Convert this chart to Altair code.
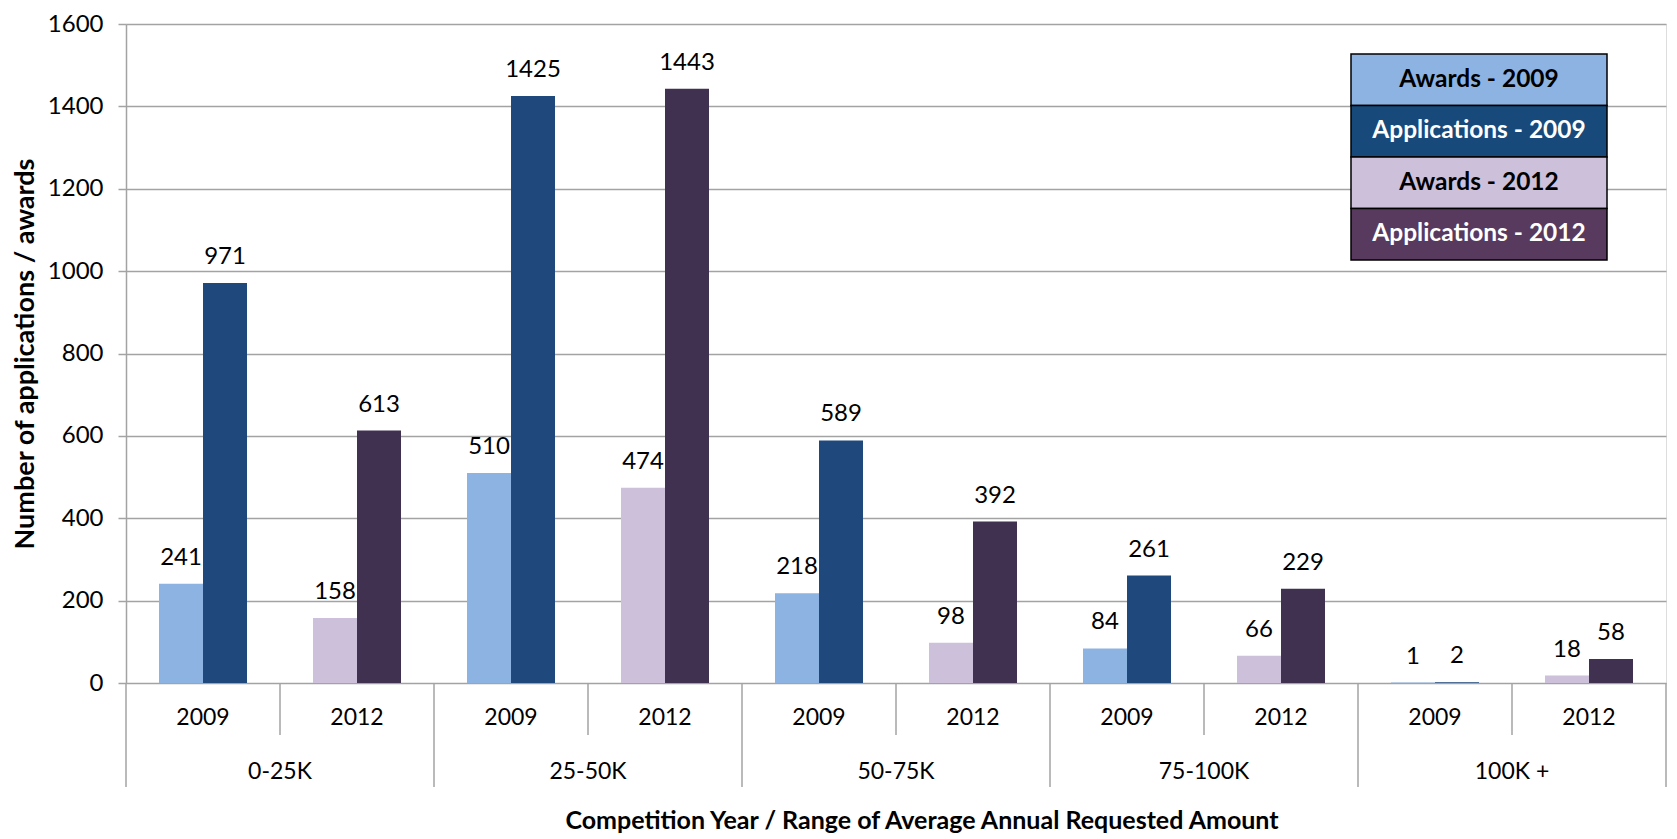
import altair as alt
import pandas as pd

ranges = ["0-25K", "25-50K", "50-75K", "75-100K", "100K +"]
years = ["2009", "2012"]
awards_2009 = [241, 510, 218, 84, 1]
apps_2009 = [971, 1425, 589, 261, 2]
awards_2012 = [158, 474, 98, 66, 18]
apps_2012 = [613, 1443, 392, 229, 58]
series_names = ["Awards - 2009", "Applications - 2009", "Awards - 2012", "Applications - 2012"]
bar_colors = ["#8DB3E2", "#1F497D", "#CCC0DA", "#403151"]
legend_colors = ["#8DB3E2", "#17497A", "#CCC0DA", "#573A5E"]
legend_text_colors = ["black", "white", "black", "white"]

W, H = 1540, 659
FONT = "Lato"

rows = []
keys = []
for i, r in enumerate(ranges):
    for y in years:
        keys.append(f"{r}|{y}")
    rows.append(dict(key=f"{r}|2009", measure="Awards", series="Awards - 2009", value=awards_2009[i]))
    rows.append(dict(key=f"{r}|2009", measure="Applications", series="Applications - 2009", value=apps_2009[i]))
    rows.append(dict(key=f"{r}|2012", measure="Awards", series="Awards - 2012", value=awards_2012[i]))
    rows.append(dict(key=f"{r}|2012", measure="Applications", series="Applications - 2012", value=apps_2012[i]))
df = pd.DataFrame(rows)

kdf = pd.DataFrame([dict(key=k, range=k.split("|")[0], year=k.split("|")[1], last=(j == len(keys) - 1))
                    for j, k in enumerate(keys)])

xscale = alt.Scale(domain=keys, paddingInner=0, paddingOuter=0)
xo = alt.XOffset("measure:N", sort=["Awards", "Applications"],
                 scale=alt.Scale(domain=["Awards", "Applications"], paddingInner=0, paddingOuter=0.75))

yaxis = alt.Axis(values=list(range(0, 1601, 200)), format="d", grid=True, gridColor="#a3a3a3", gridWidth=1.5,
                 domainColor="#a3a3a3", domainWidth=1.5, tickColor="#a3a3a3", tickWidth=1.5, tickSize=8,
                 labelPadding=15, labelFont=FONT, labelFontSize=24, labelColor="black",
                 title="Number of applications / awards", titleFont=FONT, titleFontSize=27,
                 titleFontWeight="bold", titleColor="black", titlePadding=8)

base = alt.Chart(df)
bars = base.mark_bar().encode(
    x=alt.X("key:N", scale=xscale, axis=None),
    xOffset=xo,
    y=alt.Y("value:Q", scale=alt.Scale(domain=[0, 1600], nice=False), axis=yaxis),
    color=alt.Color("series:N", scale=alt.Scale(domain=series_names, range=bar_colors), legend=None),
)
labels = base.mark_text(font=FONT, fontSize=24, color="black", baseline="alphabetic", dy=-19).encode(
    x=alt.X("key:N", scale=xscale, axis=None),
    xOffset=xo,
    y=alt.Y("value:Q"),
    text=alt.Text("value:Q"),
)

kb = alt.Chart(kdf)
short_rules = kb.mark_rule(color="#a3a3a3", strokeWidth=1.5).encode(
    x=alt.X("key:N", scale=xscale, bandPosition=0, axis=None),
    y=alt.value(H), y2=alt.value(H + 52),
).transform_filter("datum.year == '2012'")
long_rules = kb.mark_rule(color="#a3a3a3", strokeWidth=1.5).encode(
    x=alt.X("key:N", scale=xscale, bandPosition=0, axis=None),
    y=alt.value(H), y2=alt.value(H + 104),
).transform_filter("datum.year == '2009'")
end_rule = kb.mark_rule(color="#a3a3a3", strokeWidth=1.5).encode(
    x=alt.X("key:N", scale=xscale, bandPosition=1, axis=None),
    y=alt.value(H), y2=alt.value(H + 104),
).transform_filter("datum.last")
year_labels = kb.mark_text(font=FONT, fontSize=23, color="black", baseline="middle").encode(
    x=alt.X("key:N", scale=xscale, bandPosition=0.5, axis=None),
    y=alt.value(H + 35),
    text="year:N",
)
range_labels = kb.mark_text(font=FONT, fontSize=23, color="black", baseline="middle").encode(
    x=alt.X("key:N", scale=xscale, bandPosition=0, axis=None),
    y=alt.value(H + 89),
    text="range:N",
).transform_filter("datum.year == '2012'")
xtitle = alt.Chart(pd.DataFrame({"t": ["Competition Year / Range of Average Annual Requested Amount"]})).mark_text(
    font=FONT, fontSize=25, fontWeight="bold", color="black", baseline="middle").encode(
    x=alt.value(796), y=alt.value(H + 138), text="t:N")

ldf = pd.DataFrame(dict(series=series_names, fill=legend_colors, tcol=legend_text_colors, idx=list(range(4))))
lb = alt.Chart(ldf).transform_calculate(
    y0="30 + datum.idx * 51.5", y1="30 + (datum.idx + 1) * 51.5", yc="30 + (datum.idx + 0.5) * 51.5")
leg_rect = lb.mark_rect(stroke="black", strokeWidth=1.5).encode(
    x=alt.value(1225), x2=alt.value(1481),
    y=alt.Y("y0:Q", scale=None), y2="y1:Q",
    fill=alt.Fill("fill:N", scale=None),
)
leg_text_dark = lb.mark_text(font=FONT, fontSize=24.5, fontWeight="bold", color="black", baseline="middle").encode(
    x=alt.value(1353), y=alt.Y("yc:Q", scale=None), text="series:N",
).transform_filter("datum.tcol == 'black'")
leg_text_light = lb.mark_text(font=FONT, fontSize=24.5, fontWeight="bold", color="white", baseline="middle").encode(
    x=alt.value(1353), y=alt.Y("yc:Q", scale=None), text="series:N",
).transform_filter("datum.tcol == 'white'")

chart = alt.layer(
    bars, labels, short_rules, long_rules, end_rule, year_labels, range_labels, xtitle,
    leg_rect, leg_text_dark, leg_text_light,
).properties(
    width=W, height=H, padding={"left": 3, "top": 4, "right": 0, "bottom": 0}
).configure_view(stroke=None).configure(background="white")

chart.save("out.html", embed_options={"renderer": "svg", "actions": False})
